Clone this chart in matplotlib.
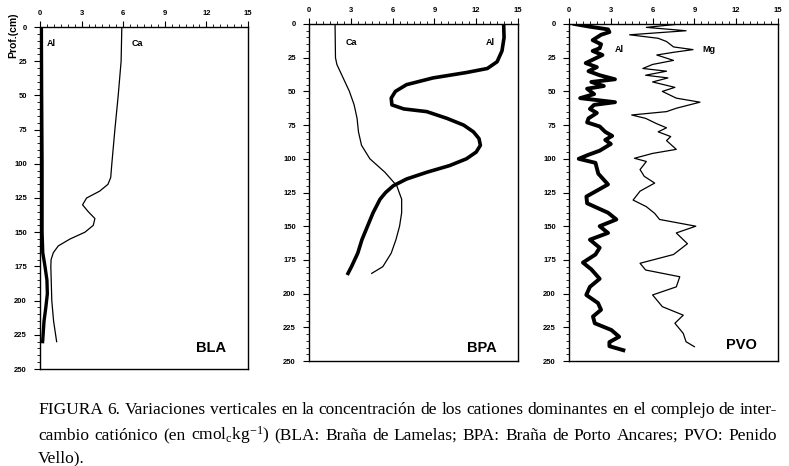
import numpy as np
import matplotlib
matplotlib.use("Agg")
import matplotlib.pyplot as plt
from matplotlib.ticker import MultipleLocator

plt.rcParams['font.family'] = ['Liberation Sans', 'DejaVu Sans']
plt.rcParams['mathtext.fontset'] = 'custom'
plt.rcParams['mathtext.rm'] = 'Liberation Serif'
plt.rcParams['mathtext.it'] = 'Liberation Serif:italic'

# BLA: Braña de Lamelas
bla_ca_depth = [0, 25, 50, 75, 100, 110, 115, 120, 125, 130, 135, 140, 145, 150, 155, 160, 165, 170, 175, 200, 215, 230]
bla_ca = [5.9, 5.85, 5.64, 5.4, 5.18, 5.1, 4.9, 4.3, 3.36, 3.07, 3.48, 3.96, 3.84, 3.24, 2.16, 1.32, 0.96, 0.8, 0.78, 0.85, 0.98, 1.2]
bla_al_depth = [0, 50, 100, 150, 165, 175, 185, 195, 205, 215, 230]
bla_al = [0.1, 0.12, 0.15, 0.15, 0.2, 0.36, 0.5, 0.53, 0.42, 0.29, 0.19]

# BPA: Braña de Porto Ancares
bpa_ca_depth = [0, 25, 30, 40, 50, 60, 70, 80, 90, 100, 110, 120, 130, 140, 150, 160, 170, 180, 185]
bpa_ca = [1.87, 1.9, 2.0, 2.45, 2.9, 3.24, 3.45, 3.55, 3.77, 4.37, 5.45, 6.3, 6.65, 6.65, 6.5, 6.24, 5.9, 5.3, 4.5]
bpa_al_depth = [0, 10, 20, 28, 33, 36, 40, 45, 50, 55, 60, 63, 65, 70, 75, 80, 85, 90, 95, 100, 105, 110, 115, 120, 125, 130, 140, 150, 160, 170, 180, 185]
bpa_al = [13.97, 14.0, 13.85, 13.5, 12.8, 11.3, 8.9, 7.0, 6.2, 5.9, 5.95, 6.8, 8.45, 9.9, 11.1, 11.8, 12.2, 12.3, 12.0, 11.3, 10.1, 8.45, 7.0, 6.05, 5.5, 5.1, 4.6, 4.2, 3.8, 3.5, 3.05, 2.8]

# PVO: Penido Vello
pvo_al_depth = [0, 2, 4, 6, 8, 12, 15, 18, 20, 23, 26, 29, 32, 35, 38, 41, 43, 46, 48, 52, 55, 58, 60, 63, 66, 70, 73,
                76, 80, 83, 86, 89, 94, 97, 100, 103, 111, 119, 128, 133, 140, 145, 150, 155, 160, 166, 171, 177, 182,
                189, 195, 201, 207, 212, 217, 222, 227, 232, 236, 239, 242]
pvo_al = [0.4, 1.5, 2.8, 2.9, 2.3, 1.7, 2.3, 2.2, 1.7, 2.4, 1.8, 1.2, 2.0, 1.4, 2.2, 3.3, 1.6, 2.5, 1.3, 1.8, 0.8, 3.3, 1.8,
          1.5, 2.0, 1.4, 1.3, 2.2, 2.6, 3.1, 2.6, 3.0, 2.2, 1.4, 0.7, 1.9, 2.1, 2.8, 1.25, 1.3, 2.8, 3.4, 2.2, 2.8, 1.5,
          2.2, 1.9, 1.0, 1.6, 2.2, 1.5, 1.24, 2.08, 2.3, 1.72, 1.85, 3.04, 3.6, 2.9, 2.9, 3.9]
pvo_mg_depth = [0, 2.5, 5, 8, 10.6, 13, 17, 19, 21, 23, 27, 30, 33, 35, 38, 40, 43, 47, 50, 55, 58, 62.5, 65, 67.5, 70,
                74, 77, 80, 83.5, 86.5, 93, 96, 99.6, 102, 108, 113, 118, 124, 130.6, 135.5, 140.5, 145, 150, 155, 163,
                171, 177.5, 182.5, 187.5, 195, 201, 209.7, 216, 222, 229.5, 235.7, 239.4]
pvo_mg = [7.95, 5.55, 8.4, 4.35, 6.4, 7.0, 7.5, 8.9, 7.5, 6.3, 7.5, 6.0, 5.3, 7.0, 5.5, 7.1, 6.0, 7.6, 6.7, 7.7, 9.4, 7.7,
          7.0, 4.5, 5.5, 6.3, 7.0, 6.4, 7.3, 7.0, 7.7, 6.0, 4.7, 5.55, 5.1, 5.4, 6.15, 5.1, 4.6, 5.55, 6.15, 6.5, 9.1,
          7.7, 8.5, 7.5, 5.1, 5.5, 7.95, 7.7, 6.0, 6.7, 8.2, 7.6, 8.2, 8.4, 9.0]

xticks = [0, 3, 6, 9, 12, 15]
yticks = [0, 25, 50, 75, 100, 125, 150, 175, 200, 225, 250]

fig = plt.figure(figsize=(7.89, 4.66), dpi=100)

W, H = 789.0, 466.0
boxes = [(40, 27, 248, 369), (309, 24, 518, 361), (569, 24, 778, 361)]
axs = []
for (l, t, r, b) in boxes:
    ax = fig.add_axes([l / W, 1 - b / H, (r - l) / W, (b - t) / H])
    ax.set_xlim(0, 15)
    ax.set_ylim(250, 0)
    ax.xaxis.tick_top()
    ax.set_xticks(xticks)
    ax.set_yticks(yticks)
    ax.xaxis.set_minor_locator(MultipleLocator(0.5))
    ax.yaxis.set_minor_locator(MultipleLocator(5))
    ax.tick_params(which='major', length=4.5, width=0.8, labelsize=5.5)
    ax.tick_params(axis='y', which='major', pad=5)
    ax.tick_params(axis='x', which='major', pad=3)
    ax.tick_params(which='minor', length=2, width=0.6)
    for lab in ax.get_xticklabels() + ax.get_yticklabels():
        lab.set_fontweight('bold')
    for sp in ax.spines.values():
        sp.set_linewidth(1.0)
    axs.append(ax)

ax1, ax2, ax3 = axs

ax1.plot(bla_ca, bla_ca_depth, color='black', lw=0.9)
ax1.plot(bla_al, bla_al_depth, color='black', lw=2.4)
ax1.text(0.5, 12, 'Al', fontsize=6.5, fontweight='bold', va='center')
ax1.text(6.6, 12, 'Ca', fontsize=6.5, fontweight='bold', va='center')
ax1.text(13.4, 235, 'BLA', fontsize=10.5, fontweight='bold', ha='right', va='center')

ax2.plot(bpa_ca, bpa_ca_depth, color='black', lw=0.9)
ax2.plot(bpa_al, bpa_al_depth, color='black', lw=2.6)
ax2.text(2.6, 14, 'Ca', fontsize=6.5, fontweight='bold', va='center')
ax2.text(13.3, 14, 'Al', fontsize=6.5, fontweight='bold', ha='right', va='center')
ax2.text(13.5, 240, 'BPA', fontsize=10.5, fontweight='bold', ha='right', va='center')

ax3.plot(pvo_mg, pvo_mg_depth, color='black', lw=0.9)
ax3.plot(pvo_al, pvo_al_depth, color='black', lw=2.8)
ax3.text(3.3, 19, 'Al', fontsize=6.5, fontweight='bold', va='center')
ax3.text(9.6, 19, 'Mg', fontsize=6.5, fontweight='bold', va='center')
ax3.text(13.5, 238, 'PVO', fontsize=10.5, fontweight='bold', ha='right', va='center')

fig.text(13 / W, 1 - 35 / H, 'Prof.(cm)', rotation=90, fontsize=7.5, fontweight='bold',
         ha='center', va='center')

# caption, justified like the printed figure
renderer = fig.canvas.get_renderer()
cap_left, cap_right = 38.0, 777.0
cap_lines = [
    'FIGURA 6. Variaciones verticales en la concentración de los cationes dominantes en el complejo de inter-',
    r'cambio catiónico (en cmol$_\mathregular{c}$kg$^\mathregular{-1}$) (BLA: Braña de Lamelas; BPA: Braña de Porto Ancares; PVO: Penido',
    'Vello).',
]
cap_y = [414, 440, 462]

# pick the size that makes the first line fill the width with ordinary spaces
probe = fig.text(0, 0, cap_lines[0], fontsize=10, family='Liberation Serif')
cap_size = 10 * (cap_right - cap_left) / probe.get_window_extent(renderer).width
probe.remove()

for i, (line, yy) in enumerate(zip(cap_lines, cap_y)):
    words = line.split(' ')
    texts = []
    widths = []
    for w in words:
        t = fig.text(0, 1 - yy / H, w, fontsize=cap_size, family='Liberation Serif', va='baseline')
        texts.append(t)
        widths.append(t.get_window_extent(renderer).width)
    if i < 2:
        gap = (cap_right - cap_left - sum(widths)) / (len(words) - 1)
    else:
        gap = 3.0
    x = cap_left
    for t, wd in zip(texts, widths):
        t.set_x(x / W)
        x += wd + gap

fig.savefig('out.png', dpi=100)
